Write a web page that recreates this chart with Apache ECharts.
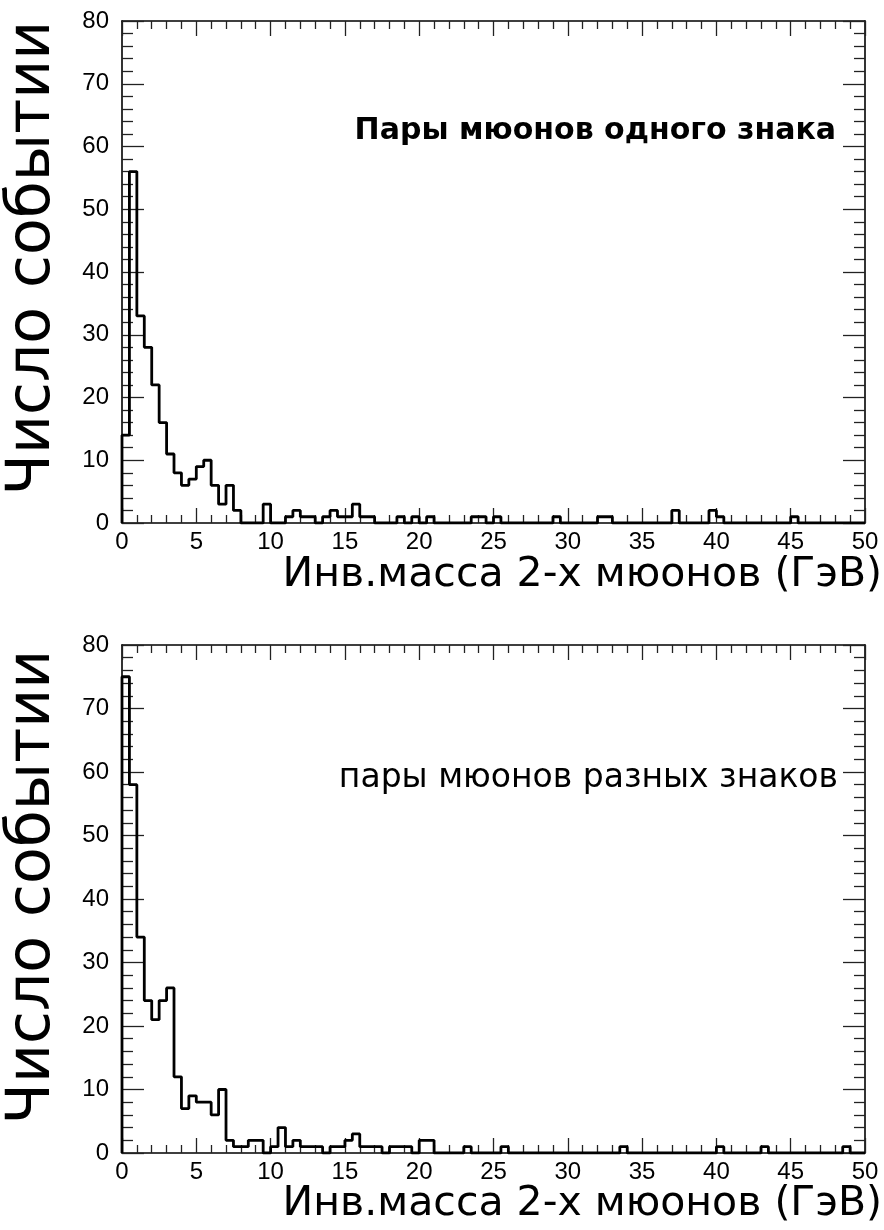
<!DOCTYPE html>
<html><head><meta charset="utf-8">
<script src="https://cdn.jsdelivr.net/npm/echarts@6/dist/echarts.min.js"></script>
<style>html,body{margin:0;padding:0;background:#fff}#c{width:884px;height:1230px}</style>
</head><body><div id="c"></div>
<script>
// ---- data ----
const binWidth = 0.5;           // GeV per bin, 0..50 GeV
const xTicks = [0, 5, 10, 15, 20, 25, 30, 35, 40, 45, 50];
const yTicks = [0, 10, 20, 30, 40, 50, 60, 70, 80];
const sameSignCounts = [
  14,56,33,28,22,16,11,8,6,7,
  9,10,6,3,6,2,0,0,0,3,
  0,0,1,2,1,1,0,1,2,1,
  1,3,1,1,0,0,0,1,0,1,
  0,1,0,0,0,0,0,1,1,0,
  1,0,0,0,0,0,0,0,1,0,
  0,0,0,0,1,1,0,0,0,0,
  0,0,0,0,2,0,0,0,0,2,
  1,0,0,0,0,0,0,0,0,0,
  1,0,0,0,0,0,0,0,0,0
];
const oppositeSignCounts = [
  75,58,34,24,21,24,26,12,7,9,
  8,8,6,10,2,1,1,2,2,0,
  1,4,1,2,1,1,1,0,1,1,
  2,3,1,1,1,0,1,1,1,0,
  2,2,0,0,0,0,1,0,0,0,
  0,1,0,0,0,0,0,0,0,0,
  0,0,0,0,0,0,0,1,0,0,
  0,0,0,0,0,0,0,0,0,0,
  1,0,0,0,0,0,1,0,0,0,
  0,0,0,0,0,0,0,1,0,0
];
const yTitle = 'Число событии';
const xTitle = 'Инв.масса 2-х мюонов (ГэВ)';
const topNote = 'Пары мюонов одного знака';
const bottomNote = 'пары мюонов разных знаков';

// ---- build ----
function stepData(counts) {
  const d = [[0, 0]];
  counts.forEach((v, i) => d.push([i * binWidth, v]));
  d.push([counts.length * binWidth, counts[counts.length - 1]]);
  d.push([counts.length * binWidth, 0]);
  return d;
}
const xMax = sameSignCounts.length * binWidth;
const tickStyle = { color: '#222', width: 1.3 };
const axLine = { show: true, onZero: false, lineStyle: { color: '#000', width: 1.6 } };
const labelFont = { color: '#000', fontSize: 24, fontFamily: '"Liberation Sans", Arial, sans-serif' };

function xAx(grid, pos, labels) {
  return {
    type: 'value', gridIndex: grid, position: pos, min: xTicks[0], max: xMax, interval: xTicks[1] - xTicks[0],
    axisLine: axLine,
    axisTick: { show: true, inside: true, length: 15, lineStyle: tickStyle },
    minorTick: { show: true, splitNumber: 5, length: 8, lineStyle: tickStyle },
    splitLine: { show: false }, minorSplitLine: { show: false },
    axisLabel: Object.assign({ show: labels, margin: 7 }, labelFont)
  };
}
function yAx(grid, pos, labels) {
  return {
    type: 'value', gridIndex: grid, position: pos, min: yTicks[0], max: yTicks[yTicks.length - 1], interval: yTicks[1] - yTicks[0],
    axisLine: axLine,
    axisTick: { show: true, inside: true, length: 22, lineStyle: tickStyle },
    minorTick: { show: true, splitNumber: 5, length: 11, lineStyle: tickStyle },
    splitLine: { show: false }, minorSplitLine: { show: false },
    axisLabel: Object.assign({ show: labels, margin: 13 }, labelFont)
  };
}
const panelShift = 629;
function texts(dy, note, noteFont, noteX, noteY) {
  return [
    { type: 'text', x: 33, y: 258 + dy, rotation: Math.PI / 2,
      style: { text: yTitle, font: '60px "DejaVu Sans"', fill: '#000', textAlign: 'center', textVerticalAlign: 'middle', verticalAlign: 'middle' } },
    { type: 'text', x: 882, y: 575 + dy,
      style: { text: xTitle, font: '41px "DejaVu Sans"', fill: '#000', textAlign: 'right', textVerticalAlign: 'middle', verticalAlign: 'middle' } },
    { type: 'text', x: noteX, y: noteY + dy,
      style: { text: note, font: noteFont, fill: '#000', textAlign: 'right', textVerticalAlign: 'middle', verticalAlign: 'middle' } }
  ];
}

const chart = echarts.init(document.getElementById('c'), null, { renderer: 'canvas' });
chart.setOption({
  backgroundColor: '#fff',
  animation: false,
  grid: [
    { left: 122, right: 19, top: 21, height: 502 },
    { left: 122, right: 19, top: 645, height: 508 }
  ],
  xAxis: [xAx(0, 'bottom', true), xAx(0, 'top', false), xAx(1, 'bottom', true), xAx(1, 'top', false)],
  yAxis: [yAx(0, 'left', true), yAx(0, 'right', false), yAx(1, 'left', true), yAx(1, 'right', false)],
  series: [
    { type: 'line', step: 'end', xAxisIndex: 0, yAxisIndex: 0, data: stepData(sameSignCounts), symbol: 'none',
      lineStyle: { color: '#000', width: 2.8 }, z: 1 },
    { type: 'line', step: 'end', xAxisIndex: 2, yAxisIndex: 2, data: stepData(oppositeSignCounts), symbol: 'none',
      lineStyle: { color: '#000', width: 2.8 }, z: 1 }
  ],
  graphic: texts(0, topNote, 'bold 30px "DejaVu Sans"', 836, 131)
    .concat(texts(panelShift, bottomNote, '33px "DejaVu Sans"', 838, 149))
});
</script></body></html>
